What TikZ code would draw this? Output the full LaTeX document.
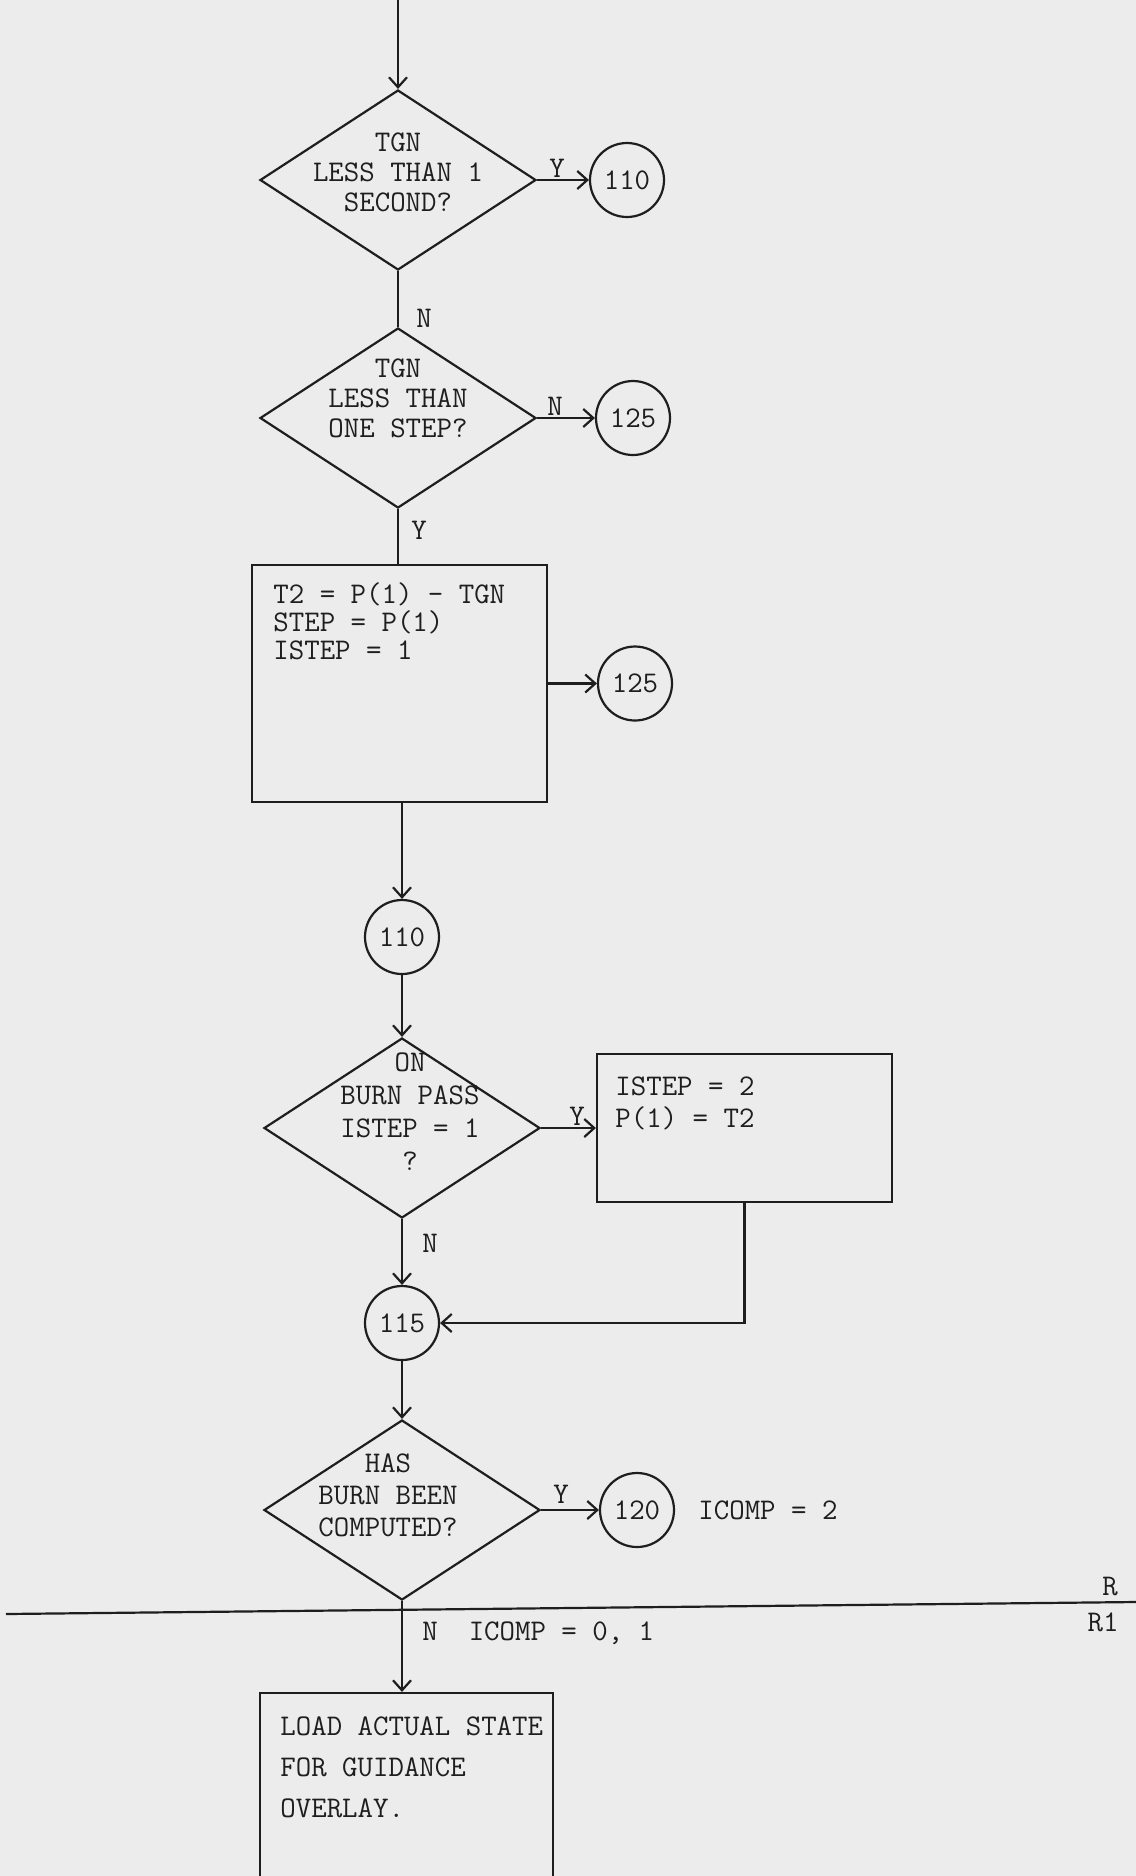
\documentclass[tikz,border=0pt]{standalone}
\usepackage{fontspec}
\usetikzlibrary{arrows.meta,shapes.geometric}
\definecolor{paper}{HTML}{ECECEC}
\definecolor{ink}{HTML}{1E1E1E}
\begin{document}
\begin{tikzpicture}[x=0.5pt,y=-0.5pt,
  dec/.style={draw=ink,line width=1.1pt,shape=diamond,minimum width=138pt,minimum height=90pt,inner sep=0pt},
  conn/.style={draw=ink,line width=1.1pt,shape=circle,minimum size=37pt,inner sep=0pt,text=ink,font=\ttfamily\fontsize{15}{15}\selectfont},
  proc/.style={draw=ink,line width=1.1pt,rectangle,inner sep=0pt},
  txt/.style={text=ink,inner sep=0pt,font=\ttfamily\fontsize{15}{15}\selectfont},
  flow/.style={draw=ink,line width=1.1pt,-{Straight Barb[length=5pt,width=9pt,line width=1.1pt]}},
  plain/.style={draw=ink,line width=1.1pt}]
\clip (0,0) rectangle (1136,1876);
\fill[paper] (0,0) rectangle (1136,1876);

% first decision
\coordinate (top) at (398,0);
\node[dec] (d1) at (398,180) {};
\node[txt,align=center] (d1t) at (398,172) {TGN\\LESS THAN 1\\SECOND?};
\node[conn] (c110a) at (627,180) {110};
\draw[flow] (top) -- (d1.north);
\draw[flow] (d1.east) -- (c110a.west);
\node[txt] (y1) at (557,168) {Y};

% second decision
\node[dec] (d2) at (398,418) {};
\node[txt,align=center] (d2t) at (398,398) {TGN\\LESS THAN\\ONE STEP?};
\node[conn] (c125a) at (633,418) {125};
\draw[plain] (d1.south) -- (d2.north);
\node[txt] (n1) at (424,318) {N};
\draw[flow] (d2.east) -- (c125a.west);
\node[txt] (n2) at (555,406) {N};

% first process box
\node[proc,minimum width=147.5pt,minimum height=118.5pt] (b1) at (399.5,683.5) {};
\node[txt,align=left,anchor=north west,font=\ttfamily\fontsize{15}{14}\selectfont] (b1t) at (273,582) {T2 = P(1) - TGN\\STEP = P(1)\\ISTEP = 1};
\draw[plain] (d2.south) -- (d2.south |- b1.north);
\node[txt] (y2) at (419,530) {Y};
\node[conn] (c125b) at (635,683.5) {125};
\draw[flow] (b1.east) -- (c125b.west);

% connector 110
\node[conn] (c110b) at (402,937) {110};
\draw[flow] (c110b.north |- b1.south) -- (c110b.north);

% third decision
\node[dec] (d3) at (402,1128) {};
\node[txt,align=center,font=\ttfamily\fontsize{15}{16.5}\selectfont] (d3t) at (410,1112) {ON\\BURN PASS\\ISTEP = 1\\?};
\draw[flow] (c110b.south) -- (d3.north);
\node[proc,minimum width=147.5pt,minimum height=74pt] (b2) at (744.5,1128) {};
\node[txt,align=left,anchor=north west,font=\ttfamily\fontsize{15}{16}\selectfont] (b2t) at (615,1076) {ISTEP = 2\\P(1) = T2};
\draw[flow] (d3.east) -- (b2.west);
\node[txt] (y3) at (577,1116) {Y};

% connector 115
\node[conn] (c115) at (402,1323) {115};
\draw[flow] (d3.south) -- (c115.north);
\node[txt] (n3) at (430,1243) {N};
\draw[flow] (b2.south) |- (c115.east);

% fourth decision
\node[dec] (d4) at (402,1510) {};
\node[txt,align=center,font=\ttfamily\fontsize{15}{16}\selectfont] (d4t) at (388,1495) {HAS\\BURN BEEN\\COMPUTED?};
\draw[flow] (c115.south) -- (d4.north);
\node[conn] (c120) at (637,1510) {120};
\draw[flow] (d4.east) -- (c120.west);
\node[txt] (y4) at (561,1494) {Y};
\node[txt,anchor=west] (ic2) at (698,1510) {ICOMP = 2};

% page rule
\coordinate (ruleL) at (6,1614);
\coordinate (ruleR) at (1136,1602);
\draw[plain] (ruleL) -- (ruleR);
\node[txt] (rR) at (1110,1586) {R};
\node[txt] (rR1) at (1103,1622) {R1};

% last process box
\node[proc,minimum width=146.5pt,minimum height=108.5pt] (b3) at (406.5,1801.5) {};
\draw[flow] (d4.south) -- (d4.south |- b3.north);
\node[txt,anchor=west] (n4) at (422,1633) {N\ \ ICOMP = 0, 1};
\node[txt,align=left,anchor=north west,font=\ttfamily\fontsize{15}{20.5}\selectfont] (b3t) at (280,1716) {LOAD ACTUAL STATE\\FOR GUIDANCE\\OVERLAY.};
\end{tikzpicture}
\end{document}
